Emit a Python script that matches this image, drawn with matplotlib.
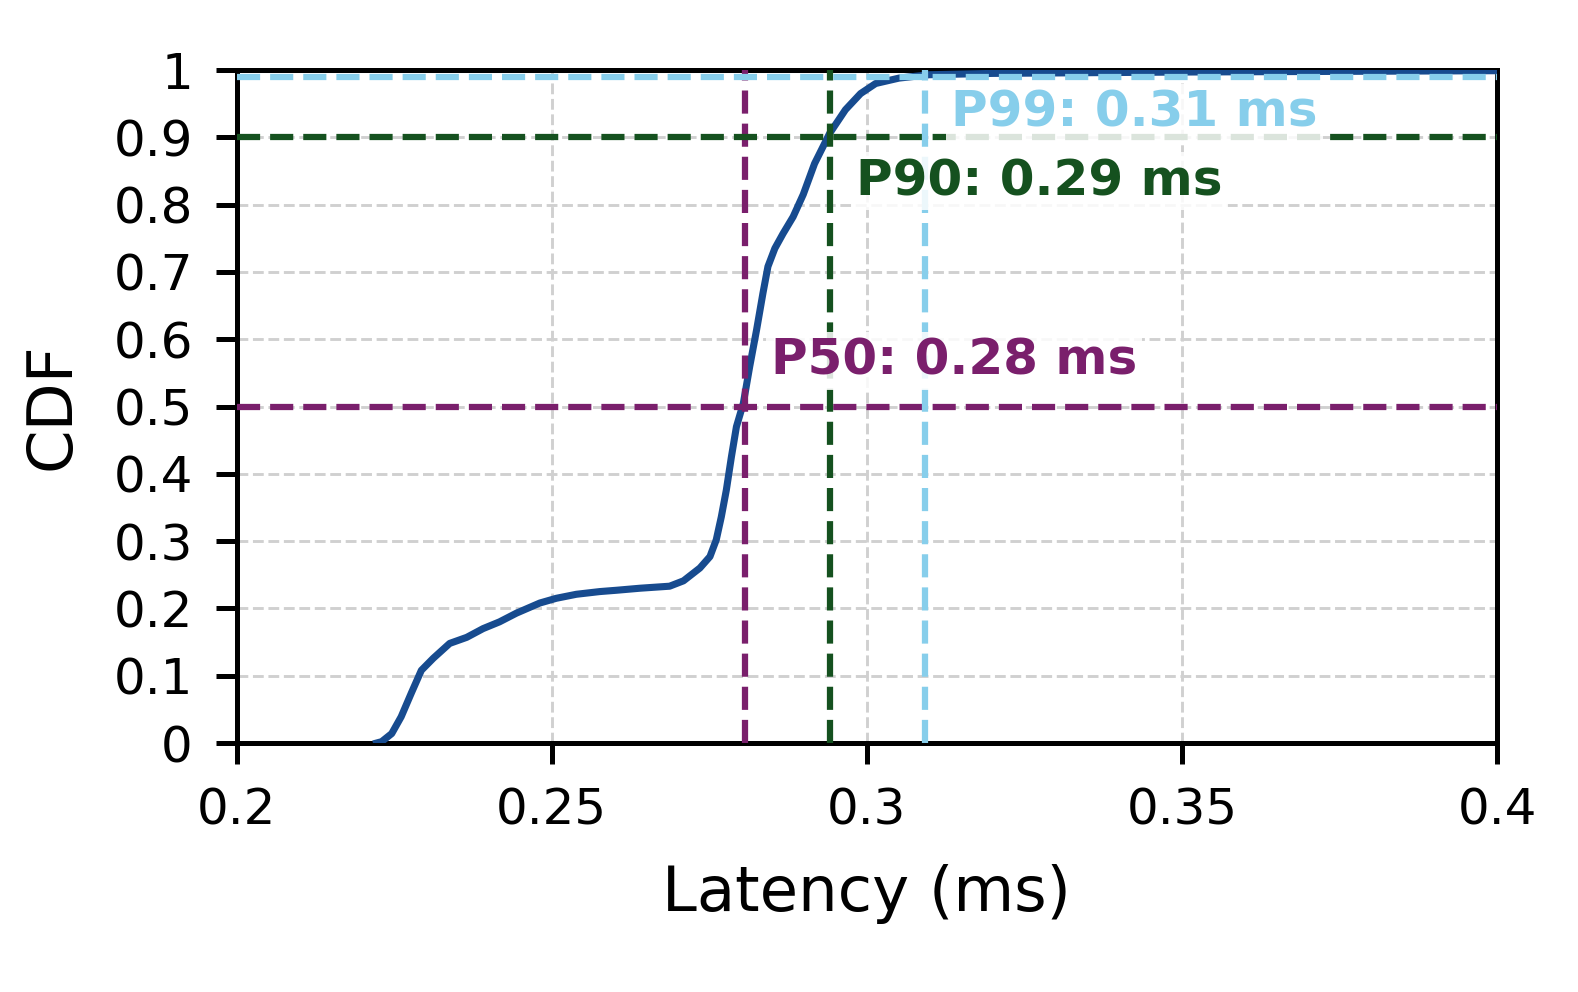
import matplotlib
matplotlib.use('Agg')
import matplotlib.pyplot as plt
from matplotlib.ticker import FormatStrFormatter

# CDF curve (latency in ms, cumulative fraction)
latency = [0.2222, 0.2230, 0.2246, 0.2261, 0.2277, 0.2293, 0.2312, 0.2338, 0.2365,
           0.2391, 0.2417, 0.2444, 0.2481, 0.2507, 0.2539, 0.2576, 0.2603, 0.2640,
           0.2687, 0.2709, 0.2735, 0.2751, 0.2761, 0.2769, 0.2777, 0.2785, 0.2793,
           0.2804, 0.2814, 0.2825, 0.2835, 0.2843, 0.2854, 0.2867, 0.2883, 0.2899,
           0.2917, 0.2941, 0.2966, 0.2990, 0.3014, 0.3051, 0.3099, 0.3200, 0.3500,
           0.4000]
cdf = [0.000, 0.002, 0.014, 0.039, 0.074, 0.108, 0.126, 0.148, 0.157,
       0.170, 0.180, 0.193, 0.208, 0.215, 0.221, 0.225, 0.227, 0.230,
       0.233, 0.241, 0.260, 0.277, 0.302, 0.336, 0.376, 0.425, 0.470,
       0.505, 0.559, 0.614, 0.668, 0.708, 0.735, 0.757, 0.782, 0.815,
       0.861, 0.906, 0.941, 0.965, 0.980, 0.988, 0.993, 0.995, 0.997,
       0.999]

pct_names = ['P50', 'P90', 'P99']
pct_levels = [0.5, 0.9, 0.99]
pct_values = [0.2806, 0.2941, 0.3092]
pct_colors = ['#7a1f6c', '#15511f', '#87ceeb']
label_y = [0.547, 0.814, 0.916]

curve_color = '#174b8f'

fig = plt.figure(figsize=(5.26, 3.3067), dpi=300)
ax = fig.add_axes([0.150, 0.251, 0.7987, 0.6784])

ax.plot(latency, cdf, color=curve_color, lw=1.7, zorder=3)

for name, lvl, val, col, ty in zip(pct_names, pct_levels, pct_values, pct_colors, label_y):
    ax.axhline(lvl, color=col, ls='--', lw=1.5, zorder=4)
    ax.axvline(val, color=col, ls='--', lw=1.5, zorder=4)
    ax.text(val + 0.0042, ty, f'{name}: {val:.2f} ms', color=col, fontsize=12,
            fontweight='bold', ha='left', va='baseline', zorder=5,
            bbox=dict(facecolor='white', alpha=0.85, edgecolor='none', pad=1.2))

ax.set_xlim(0.2, 0.4)
ax.set_ylim(0, 1)
ax.set_xticks([0.2, 0.25, 0.3, 0.35, 0.4])
ax.set_yticks([i / 10 for i in range(11)])
ax.xaxis.set_major_formatter(FormatStrFormatter('%g'))
ax.yaxis.set_major_formatter(FormatStrFormatter('%g'))
ax.tick_params(labelsize=12, length=5, width=1.2, pad=5.5)
ax.grid(True, color='#d0d0d0', ls='--', lw=0.7, zorder=0)
ax.set_axisbelow(True)
for s in ax.spines.values():
    s.set_linewidth(1.2)

ax.set_xlabel('Latency (ms)', fontsize=15, labelpad=7)
ax.set_ylabel('CDF', fontsize=15, labelpad=7.5)

fig.savefig('out.png', dpi=300)
